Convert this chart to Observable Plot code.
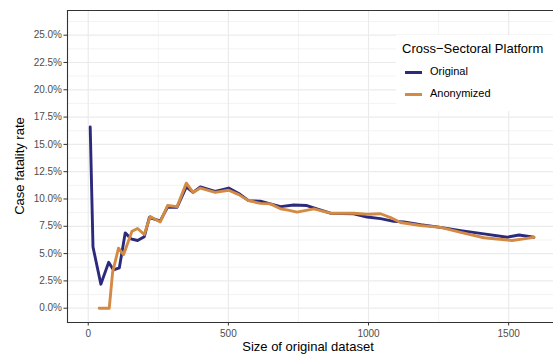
<!DOCTYPE html>
<html>
<head>
<meta charset="utf-8">
<script src="https://cdn.jsdelivr.net/npm/d3@7"></script>
<script src="https://cdn.jsdelivr.net/npm/@observablehq/plot@0.6"></script>
<style>
  html, body { margin: 0; padding: 0; background: #fff; overflow: hidden; }
  #wrap { position: relative; width: 553px; height: 354px; font-family: "Liberation Sans", Arial, sans-serif; }
  #chart { position: absolute; left: 0; top: 0; }
  .ttl { position: absolute; color: #000; font-size: 13px; white-space: nowrap; line-height: 15px; }
  #legend { position: absolute; left: 396px; top: 35px; width: 170px; height: 76px; background: #fff; }
  #legend .lt { position: absolute; left: 6px; top: 6px; font-size: 13px; color: #000; white-space: nowrap; }
  #legend .row { position: absolute; left: 9px; height: 14px; }
  #legend .key { position: absolute; left: 0; top: 5px; width: 17px; height: 3px; }
  #legend .lab { position: absolute; left: 25px; top: -1px; font-size: 11px; color: #000; white-space: nowrap; }
</style>
</head>
<body>
<div id="wrap">
  <div id="chart"></div>
  <div class="ttl" id="xt" style="left:0; width:553px; top:339px; text-align:center; padding-left:63px; box-sizing:border-box;">Size of original dataset</div>
  <div class="ttl" id="yt" style="left:19px; top:166px; transform: translate(-50%, -50%) rotate(-90deg);">Case fatality rate</div>
  <div id="legend">
    <div class="lt">Cross&#8722;Sectoral Platform</div>
    <div class="row" style="top:31px;"><div class="key" id="k0"></div><div class="lab" id="l0"></div></div>
    <div class="row" style="top:53px;"><div class="key" id="k1"></div><div class="lab" id="l1"></div></div>
  </div>
</div>
<script>
const seriesNames = ["Original", "Anonymized"];
const seriesColors = ["#2c2a7c", "#d38a44"];

const xOrig = [7, 17, 45, 73, 90, 111, 132, 152, 176, 200, 218, 257, 283, 317, 350, 374, 400, 453, 501, 537, 572, 614, 650, 686, 733, 780, 816, 864, 947, 995, 1043, 1090, 1126, 1186, 1257, 1329, 1412, 1495, 1537, 1590];
const yOrig = [16.6, 5.6, 2.2, 4.2, 3.5, 3.7, 6.9, 6.35, 6.2, 6.55, 8.3, 8.0, 9.25, 9.25, 11.1, 10.6, 11.1, 10.7, 11.0, 10.5, 9.85, 9.8, 9.55, 9.3, 9.45, 9.4, 9.1, 8.7, 8.65, 8.35, 8.2, 7.95, 7.9, 7.65, 7.4, 7.1, 6.8, 6.5, 6.7, 6.5];

const xAnon = [39, 75, 87, 108, 126, 156, 176, 200, 221, 257, 283, 317, 350, 374, 400, 453, 501, 537, 572, 614, 650, 686, 709, 745, 805, 864, 947, 995, 1043, 1079, 1114, 1186, 1257, 1329, 1412, 1512, 1554, 1590];
const yAnon = [0, 0, 3.3, 5.5, 4.9, 7.05, 7.3, 6.75, 8.4, 7.9, 9.4, 9.3, 11.45, 10.6, 11.0, 10.6, 10.8, 10.4, 9.85, 9.6, 9.55, 9.1, 9.0, 8.8, 9.1, 8.7, 8.7, 8.6, 8.65, 8.3, 7.85, 7.57, 7.4, 6.95, 6.45, 6.2, 6.35, 6.5];

const xTicks = [0, 500, 1000, 1500];
const xMinor = [250, 750, 1250];
const yTicksPct = [0, 2.5, 5, 7.5, 10, 12.5, 15, 17.5, 20, 22.5, 25];
const yMinorPct = [1.25, 3.75, 6.25, 8.75, 11.25, 13.75, 16.25, 18.75, 21.25, 23.75, 26.25];

const data = [
  ...xOrig.map((x, i) => ({x, y: yOrig[i] / 100, s: seriesNames[0]})),
  ...xAnon.map((x, i) => ({x, y: yAnon[i] / 100, s: seriesNames[1]}))
];

const yTicks = yTicksPct.map(v => v / 100);
const yMinor = yMinorPct.map(v => v / 100);
const fmt = d3.format(".1%");

const plot = Plot.plot({
  width: 553,
  height: 354,
  marginLeft: 67,
  marginTop: 10,
  marginBottom: 32,
  marginRight: 0,
  style: {fontFamily: "'Liberation Sans', Arial, sans-serif", fontSize: "10px", background: "#fff", overflow: "visible"},
  x: {domain: [-74, 1660]},
  y: {domain: [-0.0131, 0.2726]},
  color: {domain: seriesNames, range: seriesColors},
  marks: [
    Plot.gridY({ticks: yMinor, stroke: "#ebebeb", strokeOpacity: 1, strokeWidth: 0.6}),
    Plot.gridX({ticks: xMinor, stroke: "#ebebeb", strokeOpacity: 1, strokeWidth: 0.6}),
    Plot.gridY({ticks: yTicks, stroke: "#ebebeb", strokeOpacity: 1, strokeWidth: 1.2}),
    Plot.gridX({ticks: xTicks, stroke: "#ebebeb", strokeOpacity: 1, strokeWidth: 1.2}),
    Plot.lineY(data.filter(d => d.s === seriesNames[0]), {x: "x", y: "y", stroke: "s", strokeWidth: 2.9}),
    Plot.lineY(data.filter(d => d.s === seriesNames[1]), {x: "x", y: "y", stroke: "s", strokeWidth: 2.9}),
    Plot.axisY({ticks: yTicks, tickFormat: fmt, tickSize: 3.5, tickPadding: 2, stroke: "#333", fill: "#4d4d4d", label: null}),
    Plot.axisX({ticks: xTicks, tickFormat: d3.format("d"), tickSize: 3.5, tickPadding: 4, stroke: "#333", fill: "#4d4d4d", label: null}),
    Plot.frame({anchor: "left", stroke: "#333", strokeWidth: 1.1}),
    Plot.frame({anchor: "bottom", stroke: "#333", strokeWidth: 1.1}),
    Plot.frame({anchor: "top", stroke: "#333", strokeWidth: 1.1})
  ]
});
document.getElementById("chart").appendChild(plot);

seriesNames.forEach((n, i) => {
  document.getElementById("k" + i).style.background = seriesColors[i];
  document.getElementById("l" + i).textContent = n;
});
</script>
</body>
</html>
